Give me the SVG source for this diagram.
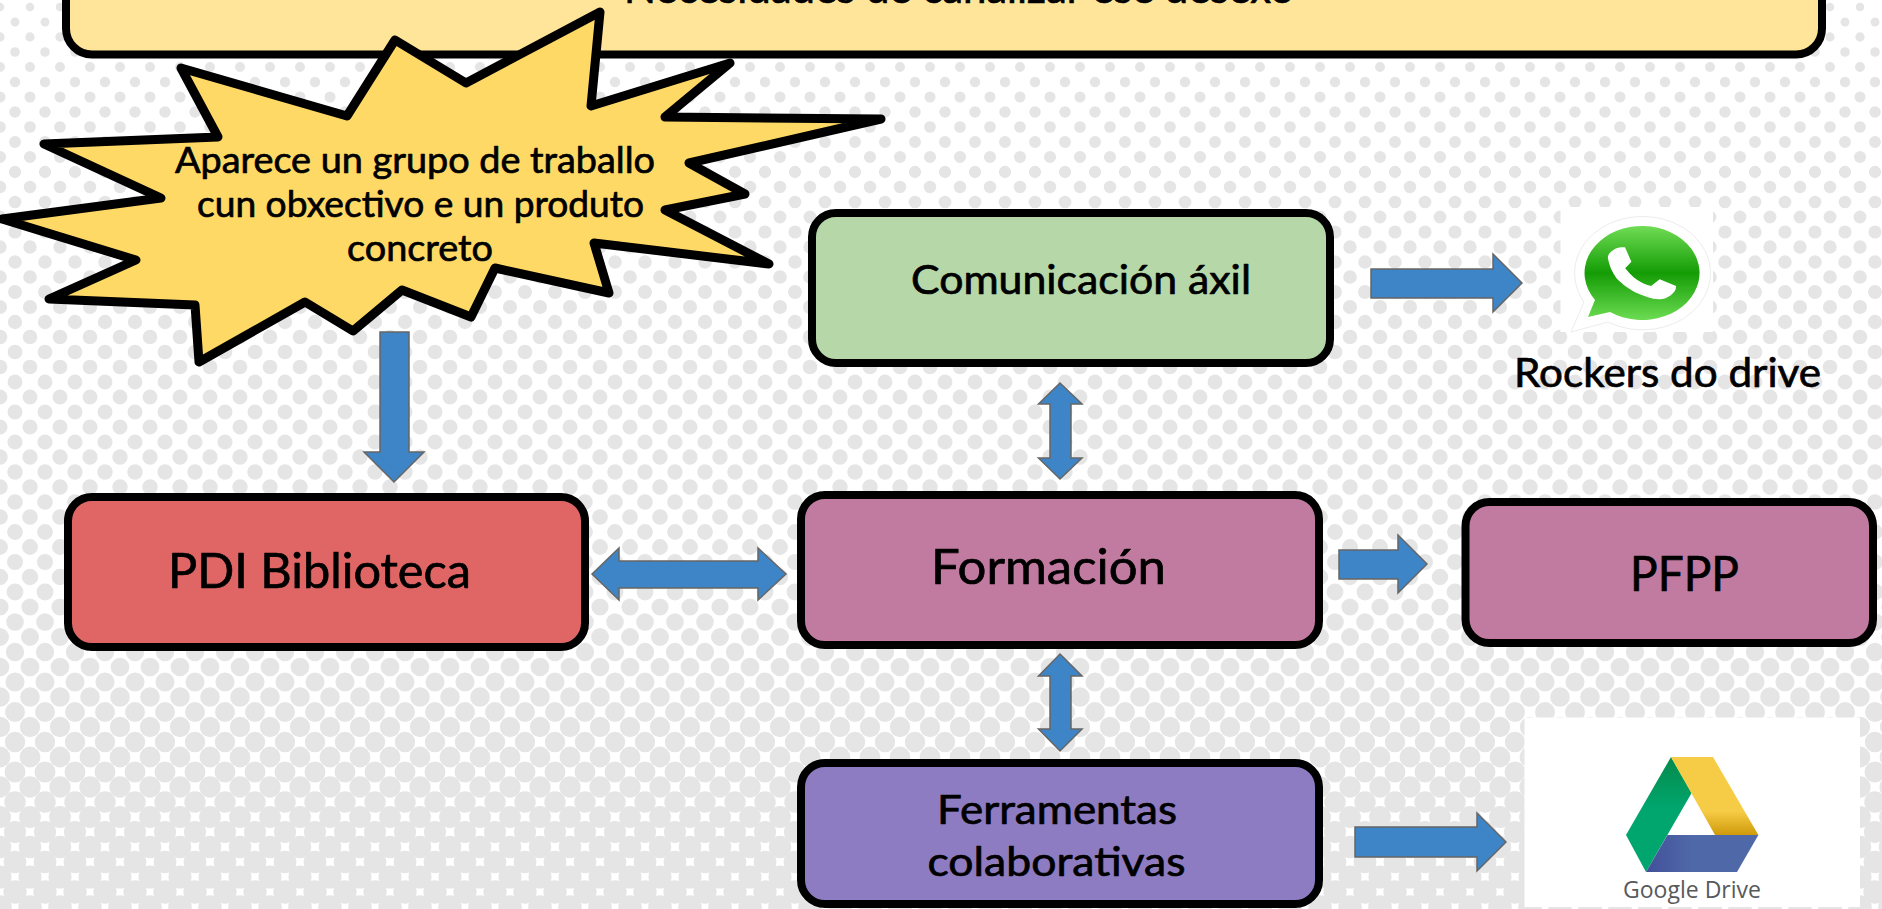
<svg xmlns="http://www.w3.org/2000/svg" width="1882" height="909" viewBox="0 0 1882 909">
<style>
.box{stroke:#000;stroke-width:8}
.t{font-family:"Lato","Liberation Sans",sans-serif;font-weight:400;fill:#000;stroke:#000;stroke-width:.7;stroke-linejoin:round}
.a{fill:#3d85c6;stroke:#666;stroke-width:1.5}
#bg path{fill:none;stroke:#e5e5e5;stroke-linecap:round;stroke-dasharray:0 30}
</style>
<defs>
<linearGradient id="wa" x1="0" y1="0" x2="0" y2="1"><stop offset="0" stop-color="#70dc55"/><stop offset=".5" stop-color="#149c05"/><stop offset="1" stop-color="#6cdc52"/></linearGradient>
<linearGradient id="dg" x1="0" y1="0" x2="0" y2="1"><stop offset="0" stop-color="#058a4a"/><stop offset=".45" stop-color="#00a66e"/></linearGradient>
<linearGradient id="dy" x1="0" y1="0" x2="0" y2="1"><stop offset="0" stop-color="#f6cb45"/><stop offset=".7" stop-color="#f6cb45"/><stop offset="1" stop-color="#cf9a0a"/></linearGradient>
<linearGradient id="db" x1="0" y1="0" x2="1" y2="0"><stop offset="0" stop-color="#42509a"/><stop offset=".4" stop-color="#4f68a8"/></linearGradient>
</defs>
<rect width="1882" height="909" fill="#fff"/>
<g id="bg">
<path stroke-width="8.5" d="M0 7H1900"/><path stroke-width="8.9" d="M15 22H1900"/><path stroke-width="9.3" d="M0 37H1900"/><path stroke-width="9.6" d="M15 52H1900"/><path stroke-width="10" d="M0 67H1900"/><path stroke-width="10.5" d="M15 82H1900"/><path stroke-width="11" d="M0 97H1900"/><path stroke-width="11.5" d="M15 112H1900"/><path stroke-width="11.7" d="M0 127H1900"/><path stroke-width="11.9" d="M15 142H1900"/><path stroke-width="12.1" d="M0 157H1900"/><path stroke-width="12.3" d="M15 172H1900"/><path stroke-width="12.5" d="M0 187H1900"/><path stroke-width="12.7" d="M15 202H1900"/><path stroke-width="12.9" d="M0 217H1900"/><path stroke-width="13.1" d="M15 232H1900"/><path stroke-width="13.3" d="M0 247H1900"/><path stroke-width="13.5" d="M15 262H1900"/><path stroke-width="13.7" d="M0 277H1900"/><path stroke-width="13.9" d="M15 292H1900"/><path stroke-width="14.1" d="M0 307H1900"/><path stroke-width="14.3" d="M15 322H1900"/><path stroke-width="14.5" d="M0 337H1900"/><path stroke-width="14.6" d="M15 352H1900"/><path stroke-width="14.7" d="M0 367H1900"/><path stroke-width="14.8" d="M15 382H1900"/><path stroke-width="14.9" d="M0 397H1900"/><path stroke-width="15" d="M15 412H1900"/><path stroke-width="15.1" d="M0 427H1900"/><path stroke-width="15.2" d="M15 442H1900"/><path stroke-width="15.3" d="M0 457H1900"/><path stroke-width="15.4" d="M15 472H1900"/><path stroke-width="15.5" d="M0 487H1900"/><path stroke-width="15.6" d="M15 502H1900"/><path stroke-width="15.7" d="M0 517H1900"/><path stroke-width="15.8" d="M15 532H1900"/><path stroke-width="15.9" d="M0 547H1900"/><path stroke-width="16" d="M15 562H1900"/><path stroke-width="16.4" d="M0 577H1900"/><path stroke-width="16.8" d="M15 592H1900"/><path stroke-width="17.2" d="M0 607H1900"/><path stroke-width="17.6" d="M15 622H1900"/><path stroke-width="17.9" d="M0 637H1900"/><path stroke-width="18.3" d="M15 652H1900"/><path stroke-width="18.7" d="M0 667H1900"/><path stroke-width="19.1" d="M15 682H1900"/><path stroke-width="19.6" d="M0 697H1900"/><path stroke-width="20" d="M15 712H1900"/><path stroke-width="20.3" d="M0 727H1900"/><path stroke-width="20.5" d="M15 742H1900"/><path stroke-width="20.8" d="M0 757H1900"/><path stroke-width="21" d="M15 772H1900"/><path stroke-width="21.3" d="M0 787H1900"/><path stroke-width="21.5" d="M15 802H1900"/><path stroke-width="21.8" d="M0 817H1900"/><path stroke-width="22.1" d="M15 832H1900"/><path stroke-width="22.4" d="M0 847H1900"/><path stroke-width="22.7" d="M15 862H1900"/><path stroke-width="23" d="M0 877H1900"/><path stroke-width="23.3" d="M15 892H1900"/><path stroke-width="23.5" d="M0 907H1900"/>
</g>
<g id="banner">
<rect class="box" x="66" y="-100" width="1756" height="154.500" rx="26" fill="#ffe599"/>
<text class="t" x="624" y="3" font-size="42" textLength="670" lengthAdjust="spacingAndGlyphs">Necesidades de canalizar ese desexo</text>
</g>
<g id="star">
<polygon points="600,12 591,106 730,63 665,117 881,119 689,163 745,194 665,210 769,264 594,243 609,293 495,268 471,317 402,290 353,331 305,302 199,362 195,305 49,299 136,260 2,219 161,198 44,144 218,137 181,68 347,116 395,40 466,83" fill="#ffd966" stroke="#000" stroke-width="9" stroke-linejoin="round"/>
<text class="t" x="175" y="173" font-size="36" textLength="480" lengthAdjust="spacingAndGlyphs">Aparece un grupo de traballo</text>
<text class="t" x="197" y="217" font-size="36" textLength="447" lengthAdjust="spacingAndGlyphs">cun obxectivo e un produto</text>
<text class="t" x="347" y="261" font-size="36" textLength="146" lengthAdjust="spacingAndGlyphs">concreto</text>
</g>
<g id="connectors">
<polygon class="a" points="1371,269 1493,269 1493,254 1522,283 1493,312 1493,298 1371,298"/>
<polygon class="a" points="380,332 409,332 409,452 424,452 394,482 364,452 380,452"/>
<polygon class="a" points="592,574 619,548 619,561 758,561 758,548 786,574 758,600 758,588 619,588 619,600"/>
<polygon class="a" points="1060,383 1082,404 1071,404 1071,458 1082,458 1060,479 1038.500,458 1050,458 1050,404 1038.500,404"/>
<polygon class="a" points="1060,654 1082,676 1071,676 1071,729 1082,729 1060,751 1038.500,729 1050,729 1050,676 1038.500,676"/>
<polygon class="a" points="1339,550 1398,550 1398,535 1427,564 1398,593 1398,579 1339,579"/>
<polygon class="a" points="1355,827 1477,827 1477,813 1506,842 1477,871 1477,857 1355,857"/>
</g>
<g id="comunicacion">
<rect class="box" x="812" y="213" width="518" height="150" rx="24" fill="#b6d7a8"/>
<text class="t" x="911" y="294" font-size="40" textLength="340" lengthAdjust="spacingAndGlyphs">Comunicación áxil</text>
</g>
<g id="pdi">
<rect class="box" x="68" y="497" width="517" height="150" rx="24" fill="#e06666"/>
<text class="t" x="168" y="588" font-size="48" textLength="303" lengthAdjust="spacingAndGlyphs">PDI Biblioteca</text>
</g>
<g id="formacion">
<rect class="box" x="801" y="495" width="518" height="150" rx="24" fill="#c27ba0"/>
<text class="t" x="931" y="584" font-size="48" textLength="235" lengthAdjust="spacingAndGlyphs">Formación</text>
</g>
<g id="pfpp">
<rect class="box" x="1465.500" y="502" width="407.500" height="141" rx="24" fill="#c27ba0"/>
<text class="t" x="1630" y="591" font-size="48" textLength="109" lengthAdjust="spacingAndGlyphs">PFPP</text>
</g>
<g id="ferramentas">
<rect class="box" x="801" y="763" width="518" height="141" rx="24" fill="#8e7cc3"/>
<text class="t" x="937" y="824" font-size="40" textLength="240" lengthAdjust="spacingAndGlyphs">Ferramentas</text>
<text class="t" x="927.500" y="876" font-size="40" textLength="258" lengthAdjust="spacingAndGlyphs">colaborativas</text>
</g>
<g id="whatsapp">
<rect x="1560.500" y="207" width="152.500" height="125" fill="#fff"/>
<path d="M1571 332 L1584 302 A68 56.700 0 1 1 1608 322 Z" fill="#fff" stroke="#ececec" stroke-width="1"/>
<path d="M1588 317 L1595 300 A57.500 47 0 1 1 1610 312 Z" fill="url(#wa)"/>
<path d="M1607.900 258.300 C1607 253 1616 247 1621.700 247.300 L1625 247.300 L1631.400 261.700 L1625.200 268.300 C1630 274 1633 277 1637.300 280 C1642 283 1646 285 1651.100 286 L1659.700 279.300 L1676 286 C1677 292 1668 299 1659.700 299.300 C1652 299.500 1644 296 1637.300 293.300 C1630 290 1622 284 1616.500 278.300 C1612 272 1609 265 1607.900 258.300 Z" fill="#fff"/>
</g>
<g id="rockers">
<text class="t" x="1514" y="387" font-size="40" textLength="307" lengthAdjust="spacingAndGlyphs">Rockers do drive</text>
</g>
<g id="drive">
<rect x="1524.500" y="717.500" width="335.500" height="189.500" fill="#fff"/>
<polygon points="1671,757 1691.600,793 1646,872 1626,835" fill="url(#dg)"/>
<polygon points="1671,757 1713,757 1758.400,835 1715,835" fill="url(#dy)"/>
<polygon points="1667.500,835 1758.400,835 1737,872 1646,872" fill="url(#db)"/>
<text x="1623" y="898" font-size="24" font-family="'Open Sans','Noto Sans',sans-serif" fill="#58595b" textLength="138" lengthAdjust="spacingAndGlyphs">Google Drive</text>
</g>
</svg>
